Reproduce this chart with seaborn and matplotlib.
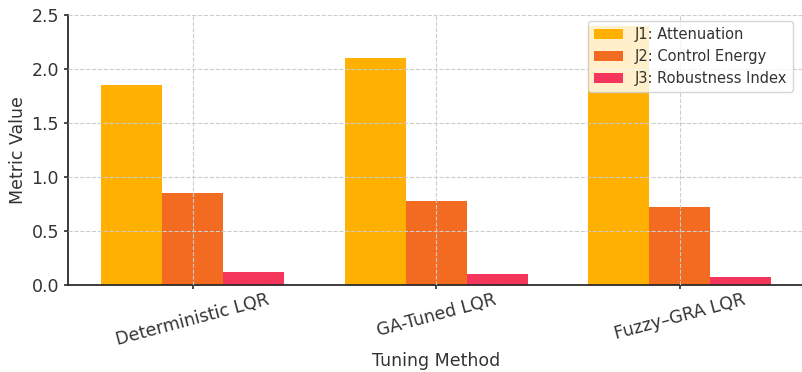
import numpy as np
import pandas as pd
import matplotlib as mpl
import matplotlib.pyplot as plt
import seaborn as sns

methods = ["Deterministic LQR", "GA-Tuned LQR", "Fuzzy\u2013GRA LQR"]
metrics = ["J1: Attenuation", "J2: Control Energy", "J3: Robustness Index"]
j1 = [1.85, 2.10, 2.40]
j2 = [0.85, 0.78, 0.72]
j3 = [0.12, 0.10, 0.07]
colors = ["#FFB000", "#F26B21", "#F5365C"]

df = pd.DataFrame({
    "Tuning Method": methods * 3,
    "Metric": [metrics[0]] * 3 + [metrics[1]] * 3 + [metrics[2]] * 3,
    "Metric Value": j1 + j2 + j3,
})

sns.set_theme(style="ticks")
plt.rcParams['font.family'] = ['DejaVu Sans']

fig = plt.figure(figsize=(8.03, 3.72), dpi=100)
# axes run slightly past the right edge, like the cropped original
ax = fig.add_axes([68 / 803, 1 - 285 / 372, 736.6 / 803, 270 / 372])

sns.barplot(data=df, x="Tuning Method", y="Metric Value", hue="Metric",
            palette=colors, width=0.75, saturation=1, linewidth=0, ax=ax)

ax.set_xlim(-0.5125, 2.5125)
ax.set_ylim(0, 2.5)
ax.grid(True, linestyle="--", color="#cccccc", linewidth=0.8)
ax.set_axisbelow(False)
for s in ["top", "right"]:
    ax.spines[s].set_visible(False)
ax.spines["left"].set_color("#222222")
ax.spines["bottom"].set_color("#222222")

ax.set_xlabel("Tuning Method", fontsize=12.5, color="#333333", labelpad=2)
ax.set_ylabel("Metric Value", fontsize=12.5, color="#333333", labelpad=3)
ax.tick_params(axis="both", labelsize=12.5, colors="#333333", length=3)
ax.tick_params(axis="x", pad=1)
plt.setp(ax.get_xticklabels(), rotation=15)

leg = ax.legend(loc="upper right", bbox_to_anchor=(0.984, 0.978),
                borderaxespad=0, fontsize=10.5, frameon=True, framealpha=0.8)
for t in leg.get_texts():
    t.set_color("#333333")

fig.savefig("out.png", dpi=100)
